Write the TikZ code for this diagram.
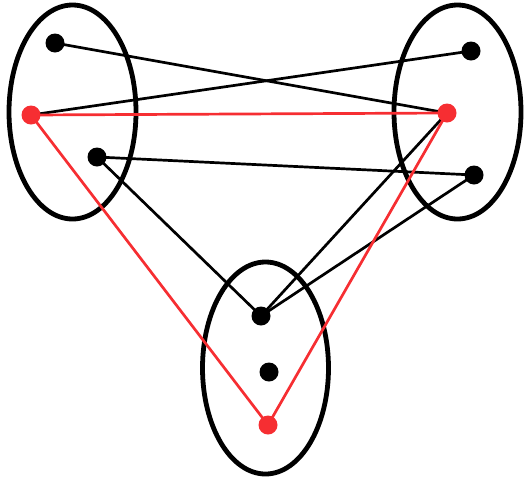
\documentclass[tikz,border=0pt]{standalone}
\definecolor{myred}{RGB}{246,46,50}
\tikzset{
  grp/.style={draw=black,line width=4.8pt},
  bdot/.style={circle,fill=black,inner sep=0pt,minimum size=19pt},
  rdot/.style={circle,fill=myred,inner sep=0pt,minimum size=19pt},
  bedge/.style={draw=black,line width=2.7pt},
  redge/.style={draw=myred,line width=2.7pt}
}
\begin{document}
\begin{tikzpicture}[x=1pt,y=-1pt]
\useasboundingbox (0,0) rectangle (524,480);
\draw[grp] (72.5,112) ellipse [x radius=63.5, y radius=107];
\draw[grp] (457.5,112) ellipse [x radius=63.5, y radius=107];
\draw[grp] (265.5,368) ellipse [x radius=63, y radius=106];
\coordinate (L1) at (55,43);
\coordinate (L2) at (31,115);
\coordinate (L3) at (97,157);
\coordinate (R1) at (471,51);
\coordinate (R2) at (447,113);
\coordinate (R3) at (474,175);
\coordinate (B1) at (261,316);
\coordinate (B2) at (269,372);
\coordinate (B3) at (268,425);
\draw[bedge] (L1) -- (R2);
\draw[bedge] (L2) -- (R1);
\draw[bedge] (L3) -- (R3);
\draw[bedge] (L3) -- (B1);
\draw[bedge] (B1) -- (R2);
\draw[bedge] (B1) -- (R3);
\draw[redge] (L2) -- (R2);
\draw[redge] (L2) -- (B3);
\draw[redge] (R2) -- (B3);
\node[bdot] (n1) at (L1) {};
\node[rdot] (n2) at (L2) {};
\node[bdot] (n3) at (L3) {};
\node[bdot] (n4) at (R1) {};
\node[rdot] (n5) at (R2) {};
\node[bdot] (n6) at (R3) {};
\node[bdot] (n7) at (B1) {};
\node[bdot] (n8) at (B2) {};
\node[rdot] (n9) at (B3) {};
\end{tikzpicture}
\end{document}
